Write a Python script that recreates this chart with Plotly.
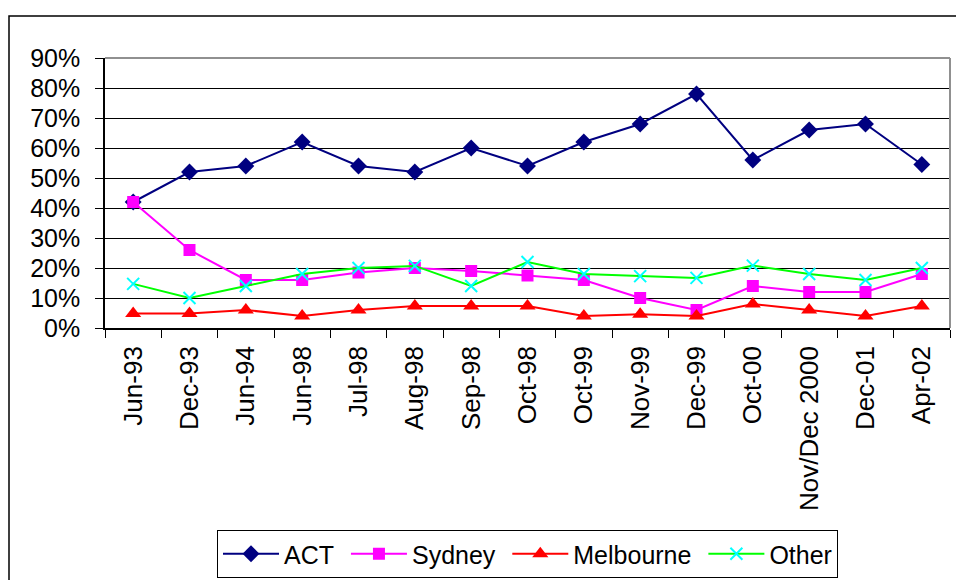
import plotly.graph_objects as go

# Survey periods (category axis)
periods = ["Jun-93", "Dec-93", "Jun-94", "Jun-98", "Jul-98", "Aug-98", "Sep-98",
           "Oct-98", "Oct-99", "Nov-99", "Dec-99", "Oct-00", "Nov/Dec 2000",
           "Dec-01", "Apr-02"]

# Share by location, in percent
act = [42, 52, 54, 62, 54, 52, 60, 54, 62, 68, 78, 56, 66, 68, 54.5]
sydney = [42, 26, 16, 16, 18.5, 20, 19, 17.5, 16, 10, 6, 14, 12, 12, 18]
melbourne = [4.8, 4.8, 6, 4, 6, 7.3, 7.3, 7.3, 4, 4.6, 4, 8, 6, 4, 7.3]
other = [14.7, 10, 14, 18, 20, 20.7, 14, 22, 18, 17.3, 16.7, 20.8, 18, 16, 20]

y_ticks = list(range(0, 91, 10))
y_labels = [f"{v}%" for v in y_ticks]

FONT = "Liberation Sans, Arial, sans-serif"
FS = 25
PAD = "\u00a0"  # a little extra room after legend entries

fig = go.Figure()
fig.add_trace(go.Scatter(
    x=periods, y=act, name="ACT" + PAD, mode="lines+markers",
    line=dict(color="#000080", width=2),
    marker=dict(symbol="diamond", size=13, color="#000080"),
))
fig.add_trace(go.Scatter(
    x=periods, y=sydney, name="Sydney" + PAD, mode="lines+markers",
    line=dict(color="#FF00FF", width=2),
    marker=dict(symbol="square", size=12, color="#FF00FF"),
))
fig.add_trace(go.Scatter(
    x=periods, y=melbourne, name="Melbourne" + PAD, mode="lines+markers",
    line=dict(color="#FF0000", width=2),
    marker=dict(symbol="triangle-up", size=14, color="#FF0000"),
))
fig.add_trace(go.Scatter(
    x=periods, y=other, name="Other", mode="lines+markers",
    line=dict(color="#00FF00", width=2),
    marker=dict(symbol="x-thin", size=12, color="#00FFFF",
                line=dict(color="#00FFFF", width=2)),
))

L, R, T, B = 105, 6, 58, 252
W, H = 956, 580
pw, ph = W - L - R, H - T - B

def px_x(v):
    return (v - L) / pw

def px_y(v):
    return (H - B - v) / ph

shapes = [
    # outer chart frame
    dict(type="rect", xref="paper", yref="paper",
         x0=px_x(9), x1=px_x(W + 20), y0=px_y(H + 20), y1=px_y(16),
         line=dict(color="black", width=1.5), layer="below"),
    # plot-area border (top and right)
    dict(type="line", xref="paper", yref="paper", x0=0, x1=1, y0=1, y1=1,
         line=dict(color="#909090", width=2), layer="above"),
    dict(type="line", xref="paper", yref="paper", x0=1, x1=1, y0=0, y1=1,
         line=dict(color="#909090", width=2), layer="above"),
]

fig.update_layout(
    width=W, height=H,
    margin=dict(l=L, r=R, t=T, b=B, autoexpand=False),
    paper_bgcolor="white", plot_bgcolor="white",
    font=dict(family=FONT, size=FS, color="black"),
    showlegend=True,
    legend=dict(
        orientation="h", xref="container", yref="container",
        x=217 / W, y=1 - 530 / H,
        xanchor="left", yanchor="top",
        bordercolor="black", borderwidth=1, bgcolor="white",
        font=dict(family=FONT, size=FS, color="black"),
        itemwidth=56,
    ),
    shapes=shapes,
    xaxis=dict(
        type="category", range=[-0.5, len(periods) - 0.5],
        tickson="boundaries", ticks="outside", ticklen=8,
        tickcolor="black", tickangle=-90, showgrid=False,
        showline=True, linecolor="black", linewidth=1.5,
        tickfont=dict(family=FONT, size=26, color="black"),
        ticklabelstandoff=6,
    ),
    yaxis=dict(
        range=[0, 90], tickvals=y_ticks, ticktext=y_labels,
        ticks="outside", ticklen=8, tickcolor="black",
        showgrid=True, gridcolor="black", gridwidth=1,
        showline=True, linecolor="black", linewidth=1.5, zeroline=False,
        tickfont=dict(family=FONT, size=FS, color="black"),
        ticklabelstandoff=10,
    ),
)

fig.write_html("out.html")
